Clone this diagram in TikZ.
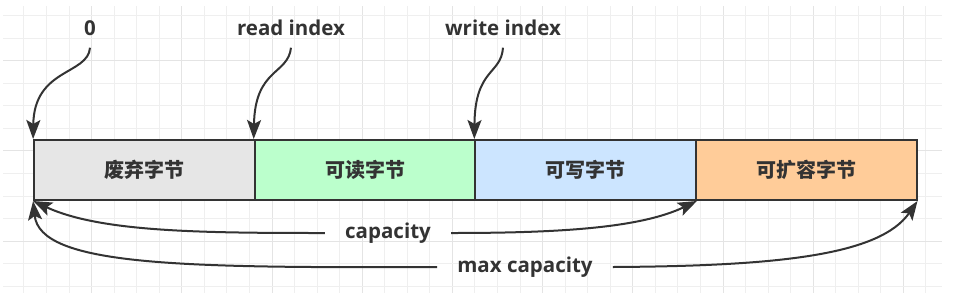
\documentclass[tikz,border=0pt]{standalone}
\usepackage{fontspec}
\setmainfont{Open Sans}
\newfontfamily\cjk{Noto Sans CJK SC}
\usetikzlibrary{arrows.meta}
\definecolor{txt}{HTML}{333333}
\definecolor{gridminor}{HTML}{EFEFEF}
\definecolor{gridmajor}{HTML}{E4E4E4}
\definecolor{cgray}{HTML}{E6E6E6}
\definecolor{cgreen}{HTML}{BBFFCC}
\definecolor{cblue}{HTML}{CCE5FF}
\definecolor{corange}{HTML}{FFCC99}
\tikzset{
  lbl/.style={inner sep=0pt, text=txt, font=\fontsize{20.5}{20.5}\selectfont\bfseries, text height=15pt, text depth=4pt},
  cell/.style={draw=txt, line width=2pt, minimum width=220.6pt, minimum height=60pt, inner sep=0pt, text=txt, font=\cjk\fontsize{20}{20}\selectfont\bfseries},
  conn/.style={draw=txt, line width=2pt, -{Stealth[length=19pt,width=14pt,inset=4pt]}},
}
\begin{document}
\begin{tikzpicture}[x=1pt,y=-1pt]
\useasboundingbox (0,0) rectangle (958,293);
\fill[white] (0,0) rectangle (958,293);
% grid
\foreach \k in {1,...,41} {
  \pgfmathsetmacro{\gx}{1.4+22.55*\k}
  \pgfmathtruncatemacro{\m}{mod(\k,4)}
  \ifnum\m=0 \draw[gridmajor, line width=1pt] (\gx,6) -- (\gx,293);
  \else \draw[gridminor, line width=1pt] (\gx,6) -- (\gx,293); \fi
}
\foreach \k in {0,...,12} {
  \pgfmathsetmacro{\gy}{15.6+22.55*\k}
  \pgfmathtruncatemacro{\m}{mod(\k+2,4)}
  \ifnum\m=0 \draw[gridmajor, line width=1pt] (3,\gy) -- (942,\gy);
  \else \draw[gridminor, line width=1pt] (3,\gy) -- (942,\gy); \fi
}
% cells
\node[cell, fill=cgray]   (b1) at (144.4,170) {废弃字节};
\node[cell, fill=cgreen]  (b2) at (365,170) {可读字节};
\node[cell, fill=cblue]   (b3) at (585.6,170) {可写字节};
\node[cell, fill=corange] (b4) at (806.2,170) {可扩容字节};
% top labels
\node[lbl] (l0) at (90,30) {0};
\node[lbl] (lr) at (291,30) {read index};
\node[lbl] (lw) at (503,30) {write index};
% bottom labels
\node[lbl] (cap) at (388,233) {capacity};
\node[lbl] (mcap) at (525,267) {max capacity};
% top arrows
\draw[conn] ([yshift=-8pt]l0.south) .. controls (88,75) and (34,68) .. (b1.north west);
\draw[conn] ([yshift=-8pt]lr.south) .. controls (288,75) and (255,68) .. (b2.north west);
\draw[conn] ([yshift=-8pt]lw.south) .. controls (501,75) and (475,68) .. (b3.north west);
% capacity
\draw[conn] ([xshift=-20pt]cap.west) .. controls (200,233) and (100,232) .. (b1.south west);
\draw[conn] ([xshift=20pt]cap.east) .. controls (560,233) and (640,228) .. (b3.south east);
% max capacity
\draw[conn] ([xshift=-20pt]mcap.west) .. controls (180,268) and (40,266) .. (b1.south west);
\draw[conn] ([xshift=20pt]mcap.east) .. controls (780,266) and (880,255) .. (b4.south east);
\end{tikzpicture}
\end{document}
